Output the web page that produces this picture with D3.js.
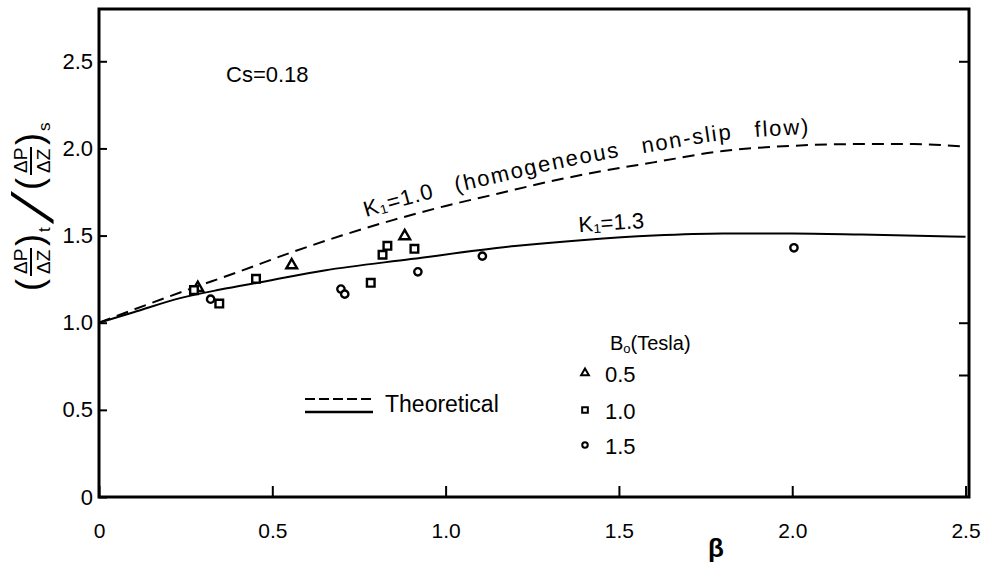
<!DOCTYPE html>
<html><head><meta charset="utf-8">
<script src="https://cdn.jsdelivr.net/npm/d3@7"></script>
<style>body{margin:0;background:#fff}</style>
</head><body>
<script>
// ---- data ----
const xTicks = [0, 0.5, 1.0, 1.5, 2.0, 2.5];
const yTicks = [0, 0.5, 1.0, 1.5, 2.0, 2.5];
const rightTicks = [2.5, 1.0, 0.7];
// measured points (beta, ratio)
const tesla05 = [[0.285,1.20],[0.556,1.33],[0.882,1.497]];
const tesla10 = [[0.274,1.187],[0.347,1.11],[0.453,1.252],[0.784,1.229],[0.818,1.39],[0.832,1.441],[0.910,1.424]];
const tesla15 = [[0.322,1.135],[0.698,1.193],[0.709,1.164],[0.920,1.292],[1.106,1.382],[2.005,1.43]];
// theoretical curves
const k10x = [0,0.1,0.25,0.4,0.55,0.7,0.85,1.0,1.15,1.3,1.45,1.6,1.8,2.0,2.2,2.35,2.5];
const k10y = [1.0,1.075,1.185,1.29,1.40,1.50,1.59,1.67,1.74,1.81,1.87,1.92,1.985,2.015,2.025,2.025,2.01];
const k13x = [0,0.1,0.234,0.35,0.474,0.65,0.9,1.2,1.4,1.6,1.8,2.0,2.2,2.5];
const k13y = [1.0,1.06,1.141,1.19,1.235,1.30,1.365,1.44,1.475,1.50,1.512,1.512,1.506,1.493];
const k10words = ["K₁=1.0", "(homogeneous", "non-slip", "flow)"];
const legendLevels = ["0.5","1.0","1.5"];

const F = "'Liberation Sans', Arial, sans-serif";
const W = 989, H = 570;
const svg = d3.select("body").append("svg").attr("width",W).attr("height",H)
  .style("background","#fff").attr("font-family",F);

const x = d3.scaleLinear().domain([0,2.51]).range([99,969]);
const y = d3.scaleLinear().domain([0,2.8]).range([497,9]);

// frame
svg.append("rect").attr("x",x(0)).attr("y",y(2.8)).attr("width",x(2.51)-x(0)).attr("height",y(0)-y(2.8))
  .attr("fill","none").attr("stroke","#000").attr("stroke-width",3);

const fmt = v => v===0 ? "0" : d3.format(".1f")(v);
const gy = svg.append("g").attr("transform",`translate(${x(0)},0)`)
  .call(d3.axisLeft(y).tickValues(yTicks).tickSizeInner(-8).tickSizeOuter(0).tickPadding(6).tickFormat(fmt));
gy.select(".domain").remove();
gy.selectAll("line").attr("stroke-width",2);
gy.selectAll("text").attr("font-size",22).attr("font-family",F).attr("fill","#000");

const gx = svg.append("g").attr("transform",`translate(0,${y(0)})`)
  .call(d3.axisBottom(x).tickValues(xTicks).tickSizeInner(-11).tickSizeOuter(0).tickPadding(26).tickFormat(fmt));
gx.select(".domain").remove();
gx.selectAll("line").attr("stroke-width",2);
gx.selectAll("text").attr("font-size",21).attr("font-family",F).attr("fill","#000");

const gr = svg.append("g").attr("transform",`translate(${x(2.51)},0)`)
  .call(d3.axisRight(y).tickValues(rightTicks).tickSizeInner(-10).tickSizeOuter(0).tickFormat(""));
gr.select(".domain").remove();
gr.selectAll("line").attr("stroke-width",2);

// curves
const line = d3.line().x(d=>x(d[0])).y(d=>y(d[1])).curve(d3.curveMonotoneX);
const k10 = k10x.map((v,i)=>[v,k10y[i]]);
const k13 = k13x.map((v,i)=>[v,k13y[i]]);
svg.append("path").attr("d",line(k10)).attr("fill","none").attr("stroke","#000")
  .attr("stroke-width",2).attr("stroke-dasharray","12,7");
svg.append("path").attr("d",line(k13)).attr("fill","none").attr("stroke","#000").attr("stroke-width",2);

// label paths offset above curves
function offPath(data, off, id){
  const g = d3.line().x(d=>x(d[0])).y(d=>y(d[1])-off).curve(d3.curveMonotoneX);
  return svg.append("path").attr("id",id).attr("d",g(data)).attr("fill","none").attr("stroke","none");
}
function lenAtX(p, px){
  const node = p.node(); let lo=0, hi=node.getTotalLength();
  for(let i=0;i<40;i++){ const m=(lo+hi)/2; if(node.getPointAtLength(m).x<px) lo=m; else hi=m; }
  return lo;
}
const p10 = offPath(k10, 11, "p10");
const p13 = offPath(k13, 8, "p13");

// curved label split into words
let off = lenAtX(p10, 366);
k10words.forEach((w,i)=>{
  const t = svg.append("text").attr("font-size",22).attr("fill","#000").style("letter-spacing", i===0 ? "1px" : "1.8px");
  t.append("textPath").attr("href","#p10").attr("startOffset",off).text(w);
  off += t.node().getComputedTextLength() + 22;
});

svg.append("text").attr("font-size",22).attr("fill","#000")
  .append("textPath").attr("href","#p13").attr("startOffset",lenAtX(p13,579))
  .text("K₁=1.3");

// markers
const sym = {tri: d3.symbol().type(d3.symbolTriangle), sq: d3.symbol().type(d3.symbolSquare), ci: d3.symbol().type(d3.symbolCircle)};
function drawPts(data, gen, size){
  svg.append("g").selectAll("path").data(data).join("path")
    .attr("transform",d=>`translate(${x(d[0])},${y(d[1])})`)
    .attr("d",gen.size(size)()).attr("fill","#fff").attr("stroke","#000").attr("stroke-width",2.4);
}
drawPts(tesla05, sym.tri, 50);
drawPts(tesla10, sym.sq, 58);
drawPts(tesla15, sym.ci, 42);

// Cs text
svg.append("text").attr("x",226).attr("y",82).attr("font-size",22).text("Cs=0.18");

// B0 legend
const bt = svg.append("text").attr("x",610).attr("y",350).attr("font-size",20);
bt.append("tspan").text("B");
bt.append("tspan").attr("font-size",13).attr("dy",3).text("o");
bt.append("tspan").attr("dy",-3).text("(Tesla)");
const legGens = [sym.tri, sym.sq, sym.ci], legSizes=[26,32,24];
legendLevels.forEach((lv,i)=>{
  const yy = [373,410,445][i];
  svg.append("path").attr("transform",`translate(585,${yy})`).attr("d",legGens[i].size(legSizes[i])())
    .attr("fill","#fff").attr("stroke","#000").attr("stroke-width",2);
  svg.append("text").attr("x",605).attr("y",yy+9).attr("font-size",22).text(lv);
});

// Theoretical legend
svg.append("line").attr("x1",305).attr("x2",375).attr("y1",399).attr("y2",399)
  .attr("stroke","#000").attr("stroke-width",2).attr("stroke-dasharray","10,4");
svg.append("line").attr("x1",305).attr("x2",373).attr("y1",412).attr("y2",412)
  .attr("stroke","#000").attr("stroke-width",2.4);
svg.append("text").attr("x",385).attr("y",412).attr("font-size",23).text("Theoretical");

// x-axis label
svg.append("text").attr("x",716).attr("y",557).attr("text-anchor","middle")
  .attr("font-size",26).attr("font-weight","bold").text("β");

// y-axis label (rotated stacked fractions)
const yl = svg.append("g").attr("transform","rotate(-90)").attr("fill","#000");
function frac(u0, sub){
  yl.append("text").attr("x",u0).attr("y",42).attr("font-size",36).text("(");
  yl.append("text").attr("x",u0+17).attr("y",27).attr("font-size",19).text("ΔP");
  yl.append("line").attr("x1",u0+15).attr("x2",u0+43).attr("y1",31).attr("y2",31).attr("stroke","#000").attr("stroke-width",2);
  yl.append("text").attr("x",u0+17).attr("y",50).attr("font-size",19).text("ΔZ");
  yl.append("text").attr("x",u0+45).attr("y",42).attr("font-size",36).text(")");
  yl.append("text").attr("x",u0+59).attr("y",50).attr("font-size",17).text(sub);
}
frac(-291, "t");
yl.append("text").attr("transform","translate(-224,53) skewX(-22)").attr("font-size",58).text("/");
frac(-190, "s");
</script>
</body></html>
